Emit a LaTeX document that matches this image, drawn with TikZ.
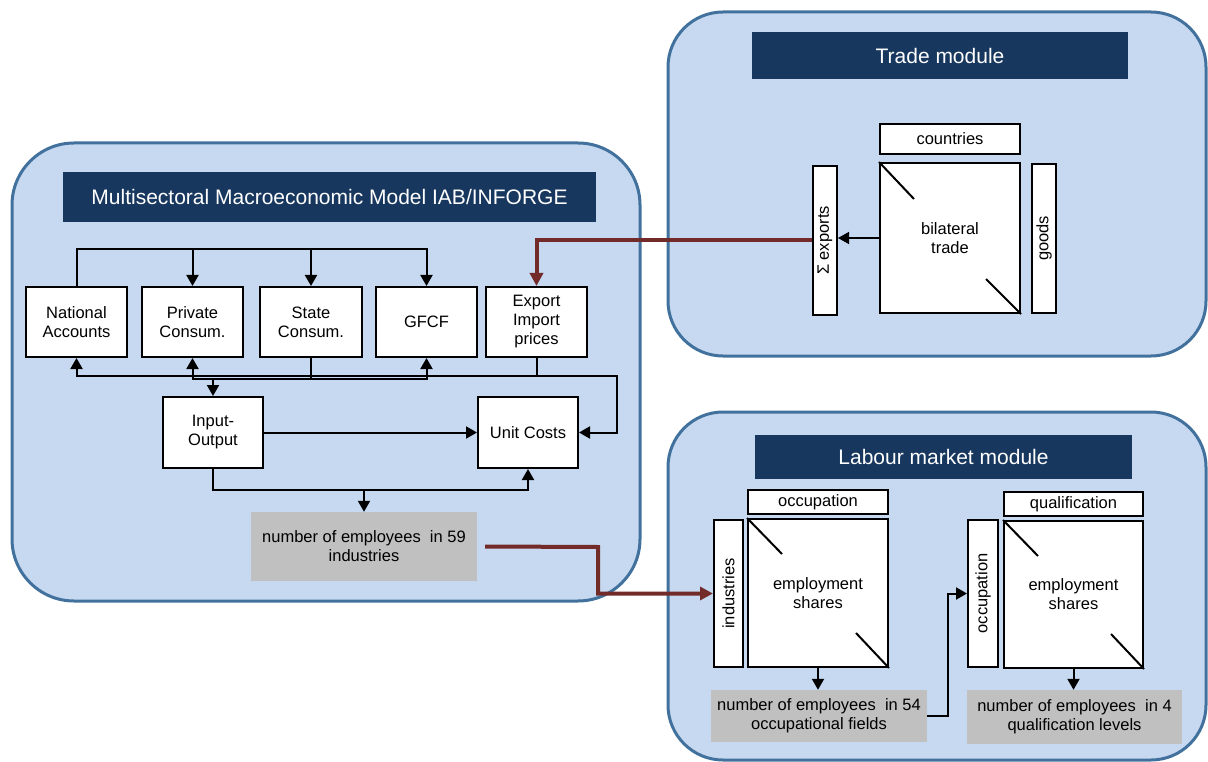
\documentclass[tikz,border=0pt]{standalone}
\usepackage{fontspec}
\setmainfont{Liberation Sans}
\usetikzlibrary{arrows.meta}
\definecolor{modfill}{HTML}{C6D9F1}
\definecolor{modline}{HTML}{41719C}
\definecolor{navy}{HTML}{17375E}
\definecolor{grayfill}{HTML}{C0C0C0}
\definecolor{linkred}{HTML}{722B28}
\begin{document}
\begin{tikzpicture}[x=1pt,y=-1pt,
  module/.style={draw=modline, fill=modfill, line width=3pt},
  titlebar/.style={fill=navy, text=white, inner sep=0pt, font=\fontsize{21}{25}\selectfont},
  wbox/.style={draw=black, fill=white, line width=2pt, inner sep=0pt, align=center, font=\fontsize{16.5}{19}\selectfont},
  gbox/.style={fill=grayfill, inner sep=0pt, align=center, font=\fontsize{16.5}{19}\selectfont},
  vlabel/.style={label={[rotate=90, font=\fontsize{16.5}{19}\selectfont]center:#1}},
  ln/.style={line width=2pt},
  arr/.style={line width=2pt, -{Triangle[length=11pt,width=12pt]}},
  redarr/.style={draw=linkred, line width=4pt, -{Triangle[length=13pt,width=13pt]}},
]
\useasboundingbox (0,0) rectangle (1208,762);

% ---------------- left module ----------------
\draw[module, rounded corners=62pt] (12,143) rectangle (640,601);
\node[titlebar, minimum width=533pt, minimum height=50pt] (tl) at (329.5,197) {Multisectoral Macroeconomic Model IAB/INFORGE};

\node[wbox, minimum width=101pt, minimum height=70pt] (na) at (76.5,322) {National\\Accounts};
\node[wbox, minimum width=101pt, minimum height=70pt] (pc) at (192.5,322) {Private\\Consum.};
\node[wbox, minimum width=102pt, minimum height=70pt] (sc) at (311,322) {State\\Consum.};
\node[wbox, minimum width=101pt, minimum height=70pt] (gf) at (426.5,322) {GFCF};
\node[wbox, minimum width=101pt, minimum height=70pt] (ex) at (536.5,322) {Export\\Import\\prices};
\node[wbox, minimum width=100pt, minimum height=71pt] (io) at (213,432.5) {Input-\\Output};
\node[wbox, minimum width=100pt, minimum height=71pt] (uc) at (528,432.5) {Unit Costs};
\node[gbox, minimum width=226pt, minimum height=69pt] (g59) at (364,546.5) {number of employees~ in 59\\industries};

% top distribution line
\draw[arr] (na.north) -- (na.north |- 0,249) -| (gf.north);
\draw[arr] (pc.north |- 0,249) -- (pc.north);
\draw[arr] (sc.north |- 0,249) -- (sc.north);

% bottom lines
\coordinate (rc) at (617,376);
\draw[arr] (ex.south) |- (na.south |- 0,376) -- (na.south);
\draw[arr] (ex.south |- 0,376) -- (rc) |- (uc.east);
\draw[arr] (sc.south) |- (pc.south |- 0,379) -- (pc.south);
\draw[arr] (sc.south |- 0,379) -| (gf.south);
\draw[arr] (io.north |- 0,379) -- (io.north);

\draw[arr] (io.east) -- (uc.west);
\draw[arr] (io.south) |- (uc.south |- 0,490) -- (uc.south);
\draw[arr] (g59.north |- 0,490) -- (g59.north);

% ---------------- trade module ----------------
\draw[module, rounded corners=55pt] (668,12) rectangle (1206,356);
\node[titlebar, minimum width=376pt, minimum height=47pt] (tt) at (940,55.5) {Trade module};
\node[wbox, minimum width=140pt, minimum height=30pt] (co) at (950,139) {countries};
\node[wbox, minimum width=140pt, minimum height=150pt] (bt) at (950,238) {bilateral\\trade};
\node[wbox, minimum width=24pt, minimum height=149pt, vlabel={Σ exports}] (sx) at (825,240.5) {};
\node[wbox, minimum width=24pt, minimum height=149pt, vlabel={goods}] (gd) at (1044,238.5) {};
\draw[ln] (bt.north west) -- ++(35,37);
\draw[ln] (bt.south east) -- ++(-35,-35);
\draw[arr, line width=1.5pt] (bt.west) -- (bt.west -| sx.east);

% ---------------- labour module ----------------
\draw[module, rounded corners=55pt] (668,412) rectangle (1206,760);
\node[titlebar, minimum width=377pt, minimum height=44pt] (tm) at (943.5,457) {Labour market module};
\node[wbox, minimum width=140pt, minimum height=24pt] (oc) at (818,502) {occupation};
\node[wbox, minimum width=140pt, minimum height=148pt] (m1) at (818,593) {employment\\shares};
\node[wbox, minimum width=29pt, minimum height=147pt, vlabel={industries}] (ind) at (728.5,593.5) {};
\node[gbox, minimum width=216pt, minimum height=52pt] (g54) at (819,716) {number of employees~ in 54\\occupational fields};
\node[wbox, minimum width=30pt, minimum height=147pt, vlabel={occupation}] (ov) at (983,593.5) {};
\node[wbox, minimum width=139pt, minimum height=24pt] (qu) at (1073.5,504) {qualification};
\node[wbox, minimum width=139pt, minimum height=147pt] (m2) at (1073.5,594.5) {employment\\shares};
\node[gbox, minimum width=215pt, minimum height=54pt] (g4) at (1074.5,717) {number of employees~ in 4\\qualification levels};

\draw[ln] (m1.north west) -- ++(35,36);
\draw[ln] (m1.south east) -- ++(-33,-35);
\draw[ln] (m2.north west) -- ++(35,36);
\draw[ln] (m2.south east) -- ++(-33,-35);
\draw[arr] (m1.south) -- (m1.south |- g54.north);
\draw[arr] (g54.east) -- ++(21,0) |- (ov.west);
\draw[arr] (m2.south) -- (m2.south |- g4.north);

% ---------------- links between modules ----------------
\draw[redarr] (sx.west) -| (ex.north);
\coordinate (rb) at (598,547);
\draw[redarr] ([xshift=8pt]g59.east) -- (rb) |- (ind.west);
\end{tikzpicture}
\end{document}
